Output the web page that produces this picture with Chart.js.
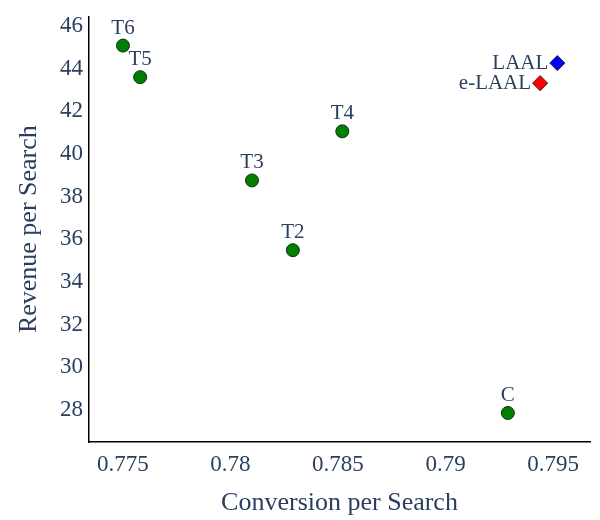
<!DOCTYPE html>
<html><head><meta charset="utf-8">
<script src="https://cdn.jsdelivr.net/npm/chart.js@4"></script>
<style>html,body{margin:0;padding:0;background:#fff}canvas{display:block}</style>
</head><body>
<canvas id="c" width="600" height="520"></canvas>
<script>
const treatmentNames = ['C', 'T2', 'T3', 'T4', 'T5', 'T6'];
const treatmentConv = [0.7929, 0.7829, 0.7810, 0.7852, 0.7758, 0.7750];
const treatmentRev = [27.86, 35.49, 38.76, 41.06, 43.60, 45.08];
const laalNames = ['LAAL'];
const laalConv = [0.7952];
const laalRev = [44.26];
const eLaalNames = ['e-LAAL'];
const eLaalConv = [0.7944];
const eLaalRev = [43.32];
const xTickValues = [0.775, 0.78, 0.785, 0.79, 0.795];
const yTickValues = [28, 30, 32, 34, 36, 38, 40, 42, 44, 46];
const xRange = [0.77342, 0.79672];
const yRange = [26.5, 46.45];

const FONT = "'Liberation Serif', 'Times New Roman', serif";
const TXT = '#2a3f5f';

const toPts = (xs, ys, names) => xs.map((x, i) => ({x: x, y: ys[i], name: names[i]}));

const labelPlugin = {
  id: 'pointLabels',
  afterDatasetsDraw(chart) {
    const ctx = chart.ctx;
    ctx.save();
    ctx.font = '21px ' + FONT;
    ctx.fillStyle = TXT;
    chart.data.datasets.forEach((ds, di) => {
      const meta = chart.getDatasetMeta(di);
      meta.data.forEach((el, i) => {
        const name = ds.data[i].name;
        ctx.textBaseline = 'alphabetic';
        if (ds.labelPos === 'top') {
          ctx.textAlign = 'center';
          ctx.fillText(name, el.x, el.y - 12);
        } else {
          ctx.textAlign = 'right';
          ctx.fillText(name, el.x - 9, el.y + 5.5);
        }
      });
    });
    ctx.restore();
  }
};

new Chart(document.getElementById('c'), {
  type: 'scatter',
  data: {
    datasets: [
      {
        data: toPts(treatmentConv, treatmentRev, treatmentNames),
        labelPos: 'top',
        pointStyle: 'circle',
        pointRadius: 6.5,
        backgroundColor: '#008000',
        borderColor: '#1a2a1a',
        borderWidth: 1
      },
      {
        data: toPts(laalConv, laalRev, laalNames),
        labelPos: 'left',
        pointStyle: 'rectRot',
        pointRadius: 7.5,
        backgroundColor: '#0000ff',
        borderColor: '#1a1a2a',
        borderWidth: 1
      },
      {
        data: toPts(eLaalConv, eLaalRev, eLaalNames),
        labelPos: 'left',
        pointStyle: 'rectRot',
        pointRadius: 7.5,
        backgroundColor: '#ff0000',
        borderColor: '#2a1a1a',
        borderWidth: 1
      }
    ]
  },
  options: {
    responsive: false,
    animation: false,
    layout: {padding: {top: 15, right: 10, left: 0, bottom: 0}},
    plugins: {legend: {display: false}, tooltip: {enabled: false}},
    scales: {
      x: {
        type: 'linear',
        min: xRange[0],
        max: xRange[1],
        afterBuildTicks: (s) => { s.ticks = xTickValues.map(v => ({value: v})); },
        afterFit: (s) => { s.height = 78; },
        grid: {display: false, drawTicks: false},
        border: {display: true, color: '#000', width: 1.5},
        ticks: {
          color: TXT,
          font: {family: FONT, size: 23},
          padding: 9,
          maxRotation: 0,
          callback: (v) => String(Number(v.toFixed(3)))
        },
        title: {
          display: true,
          text: 'Conversion per Search',
          color: TXT,
          font: {family: FONT, size: 26},
          padding: {top: 0, bottom: 1.5}
        }
      },
      y: {
        type: 'linear',
        min: yRange[0],
        max: yRange[1],
        afterBuildTicks: (s) => { s.ticks = yTickValues.map(v => ({value: v})); },
        afterFit: (s) => { s.width = 89; },
        grid: {display: false, drawTicks: false},
        border: {display: true, color: '#000', width: 1.5},
        ticks: {
          color: TXT,
          font: {family: FONT, size: 23, lineHeight: 0.9},
          padding: 6,
          callback: (v) => String(v)
        },
        title: {
          display: true,
          text: 'Revenue per Search',
          color: TXT,
          font: {family: FONT, size: 26},
          padding: {top: 14, bottom: 0}
        }
      }
    }
  },
  plugins: [labelPlugin]
});
</script>
</body></html>
